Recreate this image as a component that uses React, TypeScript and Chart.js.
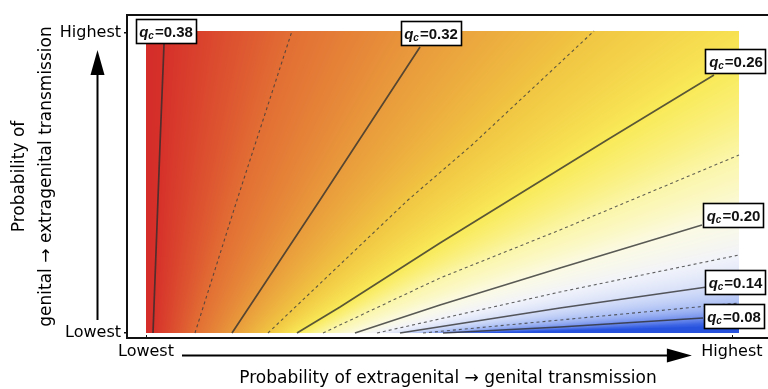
import React, { useEffect, useRef } from 'react';
import { Chart, registerables } from 'chart.js';

Chart.register(...registerables);

// ---- Data (normalized probabilities, 0 = lowest, 1 = highest) ----
// critical coverage levels q_c of each contour (solid = labelled, dashed = intermediate)
const Q_LEVELS = [0.38, 0.35, 0.32, 0.29, 0.26, 0.23, 0.2, 0.17, 0.14, 0.11, 0.08];
const DASHED = [false, true, false, true, false, true, false, true, false, true, false];

// contour polylines: x = extragenital→genital, y = genital→extragenital
const C38_X = [0.0118, 0.0236, 0.0304];
const C38_Y = [0, 0.6225, 0.957];
const C35_X = [0.0826, 0.1535, 0.2462];
const C35_Y = [0, 0.4404, 1.0];
const C32_X = [0.145, 0.2934, 0.4621];
const C32_Y = [0, 0.4404, 0.947];
const C29_X = [0.2057, 0.4418, 0.5497, 0.7555];
const C29_Y = [0, 0.4404, 0.6225, 1.0];
const C26_X = [0.2546, 0.3272, 0.4958, 0.7774, 0.9578];
const C26_Y = [0, 0.0861, 0.298, 0.6391, 0.8543];
const C23_X = [0.2985, 0.4958, 0.6981, 1.0];
const C23_Y = [0, 0.1821, 0.3411, 0.5894];
const C20_X = [0.3524, 0.4958, 0.6981, 0.9376];
const C20_Y = [0, 0.0927, 0.2152, 0.3576];
const C17_X = [0.3895, 0.6981, 1.0];
const C17_Y = [0, 0.1358, 0.2583];
const C14_X = [0.4283, 0.6981, 0.946];
const C14_Y = [0, 0.0828, 0.1523];
const C11_X = [0.4671, 0.6981, 1.0];
const C11_Y = [0, 0.043, 0.0993];
const C08_X = [0.5008, 0.6981, 0.9393];
const C08_Y = [0, 0.0199, 0.0497];

const CONTOUR_X = [C38_X, C35_X, C32_X, C29_X, C26_X, C23_X, C20_X, C17_X, C14_X, C11_X, C08_X];
const CONTOUR_Y = [C38_Y, C35_Y, C32_Y, C29_Y, C26_Y, C23_Y, C20_Y, C17_Y, C14_Y, C11_Y, C08_Y];

const X_TICK_VALUES = [0, 0.988];
const X_TICK_LABELS = ['Lowest', 'Highest'];
const Y_TICK_VALUES = [0, 0.993];
const Y_TICK_LABELS = ['Lowest', 'Highest'];

const X_TITLE = 'Probability of extragenital \u2192 genital transmission';
const Y_TITLE = ['Probability of', 'genital \u2192 extragenital transmission'];

// ---- Styles ----
const COLOR_STOPS: [number, number[]][] = [
  [0.02, [38, 82, 222]],
  [0.05, [60, 100, 228]],
  [0.08, [110, 140, 236]],
  [0.11, [170, 190, 244]],
  [0.14, [214, 223, 249]],
  [0.17, [241, 243, 250]],
  [0.2, [251, 250, 228]],
  [0.23, [251, 246, 170]],
  [0.26, [249, 234, 88]],
  [0.29, [241, 198, 66]],
  [0.32, [233, 155, 60]],
  [0.35, [226, 110, 52]],
  [0.38, [214, 48, 42]],
  [0.41, [205, 30, 38]],
];
// label box centre offsets (px) from the end of each solid contour
const LABEL_OFFSETS: Record<string, [number, number]> = {
  '0.38': [2, -12],
  '0.32': [11, -14],
  '0.26': [22, -14],
  '0.20': [31.5, -9.5],
  '0.14': [28.5, -4.5],
  '0.08': [31, -1],
};
const FONT = '"DejaVu Sans", sans-serif';
const LABEL_FONT = '"Liberation Sans", Arial, sans-serif';

function colorFor(q: number): number[] {
  if (q <= COLOR_STOPS[0][0]) return COLOR_STOPS[0][1];
  for (let i = 1; i < COLOR_STOPS.length; i++) {
    const [q1, c1] = COLOR_STOPS[i];
    if (q <= q1) {
      const [q0, c0] = COLOR_STOPS[i - 1];
      const t = (q - q0) / (q1 - q0);
      return [c0[0] + (c1[0] - c0[0]) * t, c0[1] + (c1[1] - c0[1]) * t, c0[2] + (c1[2] - c0[2]) * t];
    }
  }
  return COLOR_STOPS[COLOR_STOPS.length - 1][1];
}

function xAtY(xs: number[], ys: number[], yv: number): number {
  let i = 0;
  while (i < ys.length - 2 && yv > ys[i + 1]) i++;
  const t = (yv - ys[i]) / (ys[i + 1] - ys[i]);
  return xs[i] + (xs[i + 1] - xs[i]) * t;
}

function qAt(xs: number[], xv: number): number {
  const n = xs.length;
  if (xv <= xs[0]) {
    const s = (Q_LEVELS[0] - Q_LEVELS[1]) / Math.max(1e-6, xs[1] - xs[0]);
    return Math.min(0.41, Q_LEVELS[0] + (xs[0] - xv) * s);
  }
  if (xv >= xs[n - 1]) {
    const s = (Q_LEVELS[n - 2] - Q_LEVELS[n - 1]) / Math.max(1e-6, xs[n - 1] - xs[n - 2]);
    return Math.max(0.02, Q_LEVELS[n - 1] - (xv - xs[n - 1]) * s);
  }
  for (let k = 0; k < n - 1; k++) {
    if (xv <= xs[k + 1]) {
      const t = (xv - xs[k]) / Math.max(1e-9, xs[k + 1] - xs[k]);
      return Q_LEVELS[k] + (Q_LEVELS[k + 1] - Q_LEVELS[k]) * t;
    }
  }
  return Q_LEVELS[n - 1];
}

const heatmapPlugin = {
  id: 'heatmap',
  beforeDatasetsDraw(chart: any) {
    const { ctx, scales } = chart;
    const xs = scales.x, ys = scales.y;
    const left = Math.round(xs.getPixelForValue(0));
    const right = Math.round(xs.getPixelForValue(1));
    const top = Math.round(ys.getPixelForValue(1));
    const bottom = Math.round(ys.getPixelForValue(0));
    const w = right - left, h = bottom - top;
    if (w <= 0 || h <= 0) return;
    const img = ctx.createImageData(w, h);
    const d = img.data;
    for (let r = 0; r < h; r++) {
      const yv = ys.getValueForPixel(top + r + 0.5);
      const cx = CONTOUR_X.map((cxs, k) => xAtY(cxs, CONTOUR_Y[k], yv));
      for (let c = 0; c < w; c++) {
        const xv = xs.getValueForPixel(left + c + 0.5);
        const col = colorFor(qAt(cx, xv));
        const o = (r * w + c) * 4;
        d[o] = col[0]; d[o + 1] = col[1]; d[o + 2] = col[2]; d[o + 3] = 255;
      }
    }
    ctx.putImageData(img, left, top);
  },
};

function drawLabel(ctx: CanvasRenderingContext2D, cx: number, cy: number, text: string) {
  const num = '=' + text;
  ctx.font = `italic bold 15px ${LABEL_FONT}`;
  const wq = ctx.measureText('q').width;
  ctx.font = `italic bold 10px ${LABEL_FONT}`;
  const wc = ctx.measureText('c').width;
  ctx.font = `bold 15px ${LABEL_FONT}`;
  const wn = ctx.measureText(num).width;
  const tw = wq + wc + 1 + wn;
  const bw = Math.round(tw + 7), bh = 25;
  const bx = Math.round(cx - bw / 2), by = Math.round(cy - bh / 2);
  ctx.fillStyle = '#fff';
  ctx.fillRect(bx, by, bw, bh);
  ctx.strokeStyle = '#000';
  ctx.lineWidth = 1.6;
  ctx.strokeRect(bx + 0.5, by + 0.5, bw - 1, bh - 1);
  ctx.fillStyle = '#111';
  ctx.textAlign = 'left';
  ctx.textBaseline = 'alphabetic';
  let tx = cx - tw / 2;
  const base = cy + 5.5;
  ctx.font = `italic bold 15px ${LABEL_FONT}`;
  ctx.fillText('q', tx, base);
  tx += wq;
  ctx.font = `italic bold 10px ${LABEL_FONT}`;
  ctx.fillText('c', tx, base + 2);
  tx += wc + 1;
  ctx.font = `bold 15px ${LABEL_FONT}`;
  ctx.fillText(num, tx, base);
}

const overlayPlugin = {
  id: 'overlay',
  afterDatasetsDraw(chart: any) {
    const { ctx, scales } = chart;
    ctx.save();
    Q_LEVELS.forEach((q, k) => {
      if (DASHED[k]) return;
      const xs = CONTOUR_X[k], ys = CONTOUR_Y[k];
      const px = scales.x.getPixelForValue(xs[xs.length - 1]);
      const py = scales.y.getPixelForValue(ys[ys.length - 1]);
      const key = q.toFixed(2);
      const off = LABEL_OFFSETS[key] || [0, 0];
      drawLabel(ctx, px + off[0], py + off[1], key);
    });
    ctx.restore();
  },
  afterDraw(chart: any) {
    const { ctx, chartArea, scales } = chart;
    const { left, top, right, bottom } = chartArea;
    ctx.save();
    // frame
    ctx.strokeStyle = '#111';
    ctx.lineWidth = 2;
    ctx.beginPath();
    ctx.moveTo(right + 2, top);
    ctx.lineTo(left - 1, top);
    ctx.lineTo(left - 1, bottom);
    ctx.lineTo(right + 2, bottom);
    ctx.stroke();
    // small inner ticks on x axis
    ctx.lineWidth = 1;
    X_TICK_VALUES.forEach((v) => {
      const px = Math.round(scales.x.getPixelForValue(v)) + 0.5;
      ctx.beginPath();
      ctx.moveTo(px, bottom);
      ctx.lineTo(px, bottom - 3);
      ctx.stroke();
    });
    ctx.fillStyle = '#000';
    ctx.strokeStyle = '#000';
    // x arrow
    const ay = bottom + 17.5;
    const ax0 = scales.x.getPixelForValue(X_TICK_VALUES[0]) + 36;
    const axTip = scales.x.getPixelForValue(X_TICK_VALUES[1]) - 40;
    ctx.lineWidth = 2;
    ctx.beginPath();
    ctx.moveTo(ax0, ay);
    ctx.lineTo(axTip - 20, ay);
    ctx.stroke();
    ctx.beginPath();
    ctx.moveTo(axTip, ay);
    ctx.lineTo(axTip - 25, ay - 7);
    ctx.lineTo(axTip - 25, ay + 7);
    ctx.closePath();
    ctx.fill();
    // y arrow
    const vx = 97.5;
    const vy0 = bottom - 18;
    const vyTip = top + 35;
    ctx.beginPath();
    ctx.moveTo(vx, vy0);
    ctx.lineTo(vx, vyTip + 20);
    ctx.stroke();
    ctx.beginPath();
    ctx.moveTo(vx, vyTip);
    ctx.lineTo(vx - 7, vyTip + 25);
    ctx.lineTo(vx + 7, vyTip + 25);
    ctx.closePath();
    ctx.fill();
    ctx.restore();
  },
};

export default function App() {
  const ref = useRef<HTMLCanvasElement>(null);
  useEffect(() => {
    const datasets = Q_LEVELS.map((q, k) => ({
      label: 'q_c=' + q.toFixed(2),
      data: CONTOUR_X[k].map((xv, i) => ({ x: xv, y: CONTOUR_Y[k][i] })),
      showLine: true,
      pointRadius: 0,
      borderColor: DASHED[k] ? 'rgba(60,60,60,0.8)' : 'rgba(45,45,45,0.78)',
      borderWidth: DASHED[k] ? 1.1 : 1.7,
      borderDash: DASHED[k] ? [3, 3] : [],
      tension: 0,
      fill: false,
    }));
    const chart = new Chart(ref.current as HTMLCanvasElement, {
      type: 'scatter',
      data: { datasets },
      options: {
        animation: false,
        responsive: false,
        devicePixelRatio: 1,
        layout: { padding: { top: 15, left: 0, right: 0, bottom: 0 } },
        plugins: { legend: { display: false }, tooltip: { enabled: false } },
        scales: {
          x: {
            type: 'linear',
            position: 'bottom',
            min: -0.03035,
            max: 1.0489,
            afterBuildTicks: (s: any) => {
              s.ticks = X_TICK_VALUES.map((v) => ({ value: v }));
            },
            afterFit: (s: any) => {
              s.height = 51;
            },
            ticks: {
              callback: (_v: any, i: number) => X_TICK_LABELS[i],
              font: { family: FONT, size: 16 },
              color: '#000',
              padding: 4,
              maxRotation: 0,
              autoSkip: false,
            },
            grid: { drawOnChartArea: false, drawTicks: false },
            border: { display: false },
            title: {
              display: true,
              text: X_TITLE,
              font: { family: FONT, size: 17 },
              color: '#000',
              padding: { top: 0, bottom: 0 },
            },
          },
          y: {
            type: 'linear',
            min: -0.01656,
            max: 1.05298,
            afterBuildTicks: (s: any) => {
              s.ticks = Y_TICK_VALUES.map((v) => ({ value: v }));
            },
            afterFit: (s: any) => {
              s.width = 128;
            },
            ticks: {
              callback: (_v: any, i: number) => Y_TICK_LABELS[i],
              font: { family: FONT, size: 16 },
              color: '#000',
              padding: 3,
              autoSkip: false,
            },
            grid: { drawOnChartArea: false, drawTicks: true, tickLength: 4, color: '#111', lineWidth: 1.5 },
            border: { display: false },
            title: {
              display: true,
              text: Y_TITLE,
              font: { family: FONT, size: 17, lineHeight: '27px' },
              color: '#000',
              padding: { top: 6.5, bottom: 0 },
            },
          },
        },
      },
      plugins: [heatmapPlugin, overlayPlugin],
    } as any);
    return () => chart.destroy();
  }, []);
  return (
    <div style={{ position: 'absolute', left: 0, top: 0, width: 768, height: 389, background: '#fff' }}>
      <canvas ref={ref} width={768} height={389} style={{ display: 'block' }} />
    </div>
  );
}
